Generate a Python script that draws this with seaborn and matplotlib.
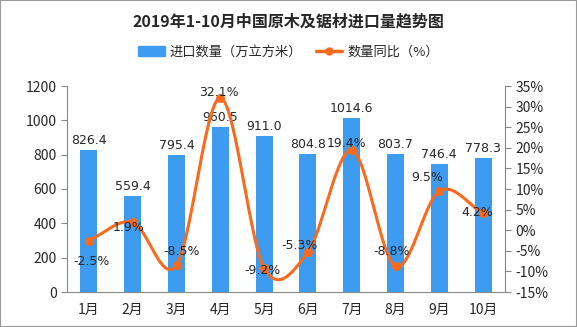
import numpy as np
import pandas as pd
import matplotlib
matplotlib.use("Agg")
import matplotlib.pyplot as plt
import seaborn as sns
from matplotlib.lines import Line2D
from matplotlib.patches import Patch

months = ["1月", "2月", "3月", "4月", "5月", "6月", "7月", "8月", "9月", "10月"]
volume = [826.4, 559.4, 795.4, 960.5, 911.0, 804.8, 1014.6, 803.7, 746.4, 778.3]
yoy = [-2.5, 1.9, -8.5, 32.1, -9.2, -5.3, 19.4, -8.8, 9.5, 4.2]
title = "2019年1-10月中国原木及锯材进口量趋势图"
bar_name = "进口数量（万立方米）"
line_name = "数量同比（%）"

sns.set_theme(style="white")
plt.rcParams['font.family'] = ['Noto Sans CJK SC', 'DejaVu Sans']

BLUE = "#3d9cf0"
ORANGE = "#f96a1e"

fig = plt.figure(figsize=(5.77, 3.27), dpi=100)
ax = fig.add_axes([67/577, 1-292/327, (505-67)/577, (292-86)/327])
df = pd.DataFrame({"month": months, "volume": volume, "yoy": yoy})
sns.barplot(data=df, x="month", y="volume", color=BLUE, width=0.39, ax=ax,
            saturation=1, edgecolor="none")
ax.set_ylim(0, 1200)
ax.set_xlim(-0.5, len(months) - 0.5)
ax.set_yticks(np.arange(0, 1201, 200))
ax.set_xlabel("")
ax.set_ylabel("")
ax.set_xticks(np.arange(len(months)))
ax.set_xticklabels(months, fontsize=10)
ax.tick_params(axis="x", length=0, pad=8)
ax.set_xticks(np.arange(-0.5, len(months), 1), minor=True)
ax.tick_params(axis="x", which="minor", length=4, color="#888888", width=0.8, direction="out")
ax.tick_params(axis="y", length=4, color="#888888", width=0.8, direction="out", labelsize=10, left=True)
for s in ["top", "right"]:
    ax.spines[s].set_visible(False)
for s in ["left", "bottom"]:
    ax.spines[s].set_color("#888888")
    ax.spines[s].set_linewidth(0.8)

for i, v in enumerate(volume):
    ax.text(i, v + 18, f"{v:.1f}", ha="center", va="bottom", fontsize=9, family="DejaVu Sans")

ax2 = ax.twinx()
ax2.set_ylim(-15, 35)
ax2.set_yticks(np.arange(-15, 36, 5))
ax2.set_yticklabels([f"{t}%" for t in range(-15, 36, 5)], fontsize=10)
ax2.tick_params(axis="y", length=4, color="#888888", width=0.8, direction="out", right=True)
for s in ["top", "left", "bottom"]:
    ax2.spines[s].set_visible(False)
ax2.spines["right"].set_color("#888888")
ax2.spines["right"].set_linewidth(0.8)

# smooth curve through the points (Catmull-Rom rendering)
x = np.arange(len(yoy), dtype=float)
y = np.array(yoy, dtype=float)
xs, ys = [], []
P = np.column_stack([x, y])
Pext = np.vstack([2 * P[0] - P[1], P, 2 * P[-1] - P[-2]])
for k in range(1, len(Pext) - 2):
    p0, p1, p2, p3 = Pext[k - 1], Pext[k], Pext[k + 1], Pext[k + 2]
    t = np.linspace(0, 1, 30)[:, None]
    seg = 0.5 * ((2 * p1) + (-p0 + p2) * t + (2 * p0 - 5 * p1 + 4 * p2 - p3) * t ** 2
                 + (-p0 + 3 * p1 - 3 * p2 + p3) * t ** 3)
    xs.extend(seg[:, 0]); ys.extend(seg[:, 1])
ax2.plot(xs, ys, color=ORANGE, lw=2.2, zorder=3)
sns.scatterplot(x=x, y=y, color=ORANGE, s=36, edgecolor=ORANGE, ax=ax2, zorder=4, legend=False)

offsets = [(2, -15), (-3, -4), (4, 10), (-1, 4), (-1, -2), (-6, 5), (-4, 5), (-3, 11), (-9, 10), (-4, 0)]
for i, v in enumerate(yoy):
    dx, dy = offsets[i]
    ax2.annotate(f"{v}%", (i, v), xytext=(dx, dy), textcoords="offset points",
                 ha="center", va="center", fontsize=9, family="DejaVu Sans", zorder=5)

fig.text(0.5, 1 - 22/327, title, ha="center", va="center", fontsize=11.5, fontweight="bold")
handles = [Patch(color=BLUE, label=bar_name),
           Line2D([0], [0], color=ORANGE, lw=2.5, marker="o", markersize=5, label=line_name)]
fig.legend(handles=handles, loc="center", bbox_to_anchor=(0.5, 1 - 52/327), ncol=2,
           frameon=False, fontsize=9.5, handlelength=2.0, columnspacing=1.0, handletextpad=0.4)

fig.patches.append(plt.Rectangle((0, 0), 1, 1, transform=fig.transFigure, fill=False,
                                 edgecolor="#999999", lw=1.5))
fig.savefig("out.png", dpi=100)
